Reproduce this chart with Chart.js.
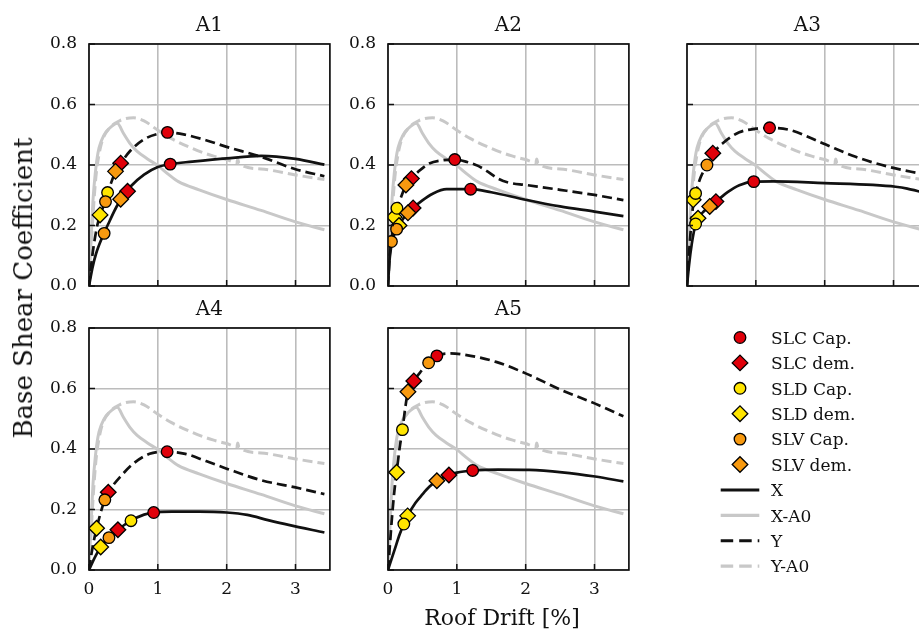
<!DOCTYPE html>
<html><head><meta charset="utf-8">
<script src="https://cdn.jsdelivr.net/npm/chart.js@4"></script>
<style>
html,body{margin:0;padding:0;width:919px;height:629px;overflow:hidden;background:#fff;}
.panel{position:absolute;}
.lbl{position:absolute;font-family:"DejaVu Serif",serif;color:#111;white-space:nowrap;line-height:1;}
</style></head><body>
<div id="panels"></div>
<div class="lbl" style="left:23px;top:288px;font-size:26px;transform:translate(-50%,-50%) rotate(-90deg);">Base Shear Coefficient</div>
<div class="lbl" style="left:502px;top:618px;font-size:22px;transform:translate(-50%,-50%);">Roof Drift [%]</div>
<script>
// ---------- data ----------
const DRIFT_TICKS = [0, 1, 2, 3];
const DRIFT_TICK_LABELS = ['0', '1', '2', '3'];
const COEF_TICKS = [0, 0.2, 0.4, 0.6, 0.8];
const COEF_TICK_LABELS = ['0.0', '0.2', '0.4', '0.6', '0.8'];
const PANEL_TITLES = ['A1', 'A2', 'A3', 'A4', 'A5'];
const MARKER_NAMES = ['SLC Cap.', 'SLC dem.', 'SLD Cap.', 'SLD dem.', 'SLV Cap.', 'SLV dem.'];
const LINE_NAMES = ['X', 'X-A0', 'Y', 'Y-A0'];

// reference building A0 (same in every panel)
const X_A0 = [[0,0],[0.02,0.1],[0.04,0.2],[0.06,0.29],[0.09,0.37],[0.13,0.44],[0.18,0.48],[0.25,0.51],[0.33,0.528],[0.41,0.538],[0.5,0.505],[0.6,0.47],[0.7,0.445],[0.85,0.42],[1.0,0.398],[1.15,0.37],[1.3,0.345],[1.6,0.318],[2.0,0.286],[2.5,0.25],[3.0,0.212],[3.42,0.186]];
const Y_A0 = [[0,0],[0.03,0.12],[0.06,0.24],[0.1,0.36],[0.15,0.44],[0.2,0.485],[0.3,0.522],[0.45,0.547],[0.65,0.556],[0.8,0.546],[1.0,0.515],[1.2,0.487],[1.5,0.455],[1.8,0.43],[2.0,0.418],[2.15,0.408],[2.16,0.42],[2.18,0.405],[2.5,0.387],[3.0,0.367],[3.42,0.352]];

// A1
const A1_X = [[0,0],[0.05,0.06],[0.1,0.105],[0.2,0.165],[0.3,0.215],[0.4,0.262],[0.5,0.298],[0.6,0.328],[0.8,0.368],[1.0,0.393],[1.18,0.403],[1.5,0.411],[2.0,0.422],[2.5,0.43],[3.0,0.42],[3.42,0.401]];
const A1_Y = [[0,0],[0.04,0.085],[0.08,0.15],[0.12,0.2],[0.16,0.233],[0.2,0.258],[0.24,0.28],[0.27,0.305],[0.32,0.34],[0.385,0.377],[0.46,0.405],[0.6,0.447],[0.8,0.485],[1.0,0.503],[1.14,0.508],[1.4,0.5],[1.7,0.482],[2.0,0.46],[2.5,0.427],[3.0,0.386],[3.42,0.363]];
const A1_SLC_CAP = [[1.18,0.403],[1.14,0.508]];
const A1_SLC_DEM = [[0.56,0.313],[0.46,0.406]];
const A1_SLD_CAP = [[0.27,0.309]];
const A1_SLD_DEM = [[0.16,0.235]];
const A1_SLV_CAP = [[0.24,0.279],[0.22,0.174]];
const A1_SLV_DEM = [[0.46,0.287],[0.385,0.379]];

// A2
const A2_X = [[0,0],[0.02,0.08],[0.05,0.135],[0.09,0.17],[0.125,0.188],[0.16,0.2],[0.22,0.222],[0.29,0.242],[0.365,0.258],[0.5,0.283],[0.65,0.305],[0.85,0.32],[1.2,0.32],[1.5,0.31],[2.0,0.285],[2.5,0.263],[3.0,0.246],[3.42,0.231]];
const A2_Y = [[0,0],[0.02,0.09],[0.05,0.147],[0.09,0.22],[0.13,0.257],[0.2,0.3],[0.26,0.334],[0.34,0.355],[0.45,0.38],[0.6,0.405],[0.8,0.416],[0.97,0.418],[1.15,0.41],[1.3,0.398],[1.45,0.378],[1.6,0.355],[1.75,0.342],[2.0,0.334],[2.5,0.318],[3.0,0.301],[3.42,0.284]];
const A2_SLC_CAP = [[1.2,0.32],[0.97,0.418]];
const A2_SLC_DEM = [[0.365,0.258],[0.34,0.355]];
const A2_SLD_CAP = [[0.13,0.257]];
const A2_SLD_DEM = [[0.09,0.228],[0.16,0.2]];
const A2_SLV_CAP = [[0.125,0.188],[0.05,0.147]];
const A2_SLV_DEM = [[0.29,0.242],[0.26,0.334]];

// A3
const A3_X = [[0,0],[0.03,0.07],[0.07,0.14],[0.125,0.205],[0.16,0.224],[0.25,0.248],[0.33,0.264],[0.42,0.279],[0.59,0.31],[0.76,0.333],[0.97,0.345],[1.25,0.346],[2.0,0.34],[2.7,0.334],[3.03,0.328],[3.2,0.322],[3.42,0.31]];
const A3_Y = [[0,0],[0.03,0.11],[0.06,0.2],[0.087,0.262],[0.125,0.306],[0.2,0.36],[0.29,0.4],[0.375,0.437],[0.52,0.472],[0.76,0.508],[1.0,0.52],[1.2,0.523],[1.49,0.516],[1.97,0.472],[2.45,0.427],[2.93,0.394],[3.42,0.37]];
const A3_SLC_CAP = [[0.97,0.345],[1.2,0.523]];
const A3_SLC_DEM = [[0.42,0.279],[0.375,0.439]];
const A3_SLD_CAP = [[0.125,0.205],[0.125,0.306]];
const A3_SLD_DEM = [[0.16,0.224],[0.09,0.285]];
const A3_SLV_CAP = [[0.29,0.4]];
const A3_SLV_DEM = [[0.33,0.263]];

// A4
const A4_X = [[0,0],[0.05,0.025],[0.1,0.048],[0.17,0.076],[0.29,0.107],[0.42,0.133],[0.61,0.163],[0.8,0.183],[0.94,0.19],[1.2,0.193],[1.6,0.193],[2.0,0.19],[2.3,0.182],[2.6,0.165],[2.9,0.149],[3.42,0.124]];
const A4_Y = [[0,0],[0.03,0.045],[0.06,0.085],[0.11,0.137],[0.17,0.19],[0.23,0.232],[0.28,0.256],[0.35,0.28],[0.45,0.307],[0.64,0.351],[0.88,0.384],[1.135,0.391],[1.4,0.384],[1.7,0.36],[2.0,0.335],[2.5,0.297],[3.0,0.273],[3.42,0.251]];
const A4_SLC_CAP = [[0.94,0.19],[1.135,0.391]];
const A4_SLC_DEM = [[0.42,0.133],[0.28,0.257]];
const A4_SLD_CAP = [[0.61,0.163]];
const A4_SLD_DEM = [[0.17,0.076],[0.11,0.138]];
const A4_SLV_CAP = [[0.29,0.107],[0.23,0.232]];
const A4_SLV_DEM = [];

// A5
const A5_X = [[0,0],[0.05,0.035],[0.1,0.07],[0.17,0.118],[0.23,0.152],[0.285,0.179],[0.4,0.222],[0.5,0.25],[0.6,0.275],[0.71,0.295],[0.885,0.314],[1.0,0.322],[1.23,0.329],[1.6,0.332],[2.05,0.331],[2.53,0.323],[3.01,0.309],[3.42,0.293]];
const A5_Y = [[0,0],[0.03,0.09],[0.06,0.18],[0.09,0.255],[0.125,0.323],[0.17,0.405],[0.21,0.464],[0.25,0.535],[0.29,0.589],[0.375,0.625],[0.48,0.657],[0.59,0.685],[0.71,0.708],[0.9,0.716],[1.2,0.708],[1.57,0.688],[2.0,0.65],[2.53,0.594],[3.01,0.55],[3.42,0.508]];
const A5_SLC_CAP = [[1.23,0.329],[0.71,0.708]];
const A5_SLC_DEM = [[0.885,0.314],[0.375,0.625]];
const A5_SLD_CAP = [[0.23,0.152],[0.21,0.464]];
const A5_SLD_DEM = [[0.285,0.179],[0.125,0.323]];
const A5_SLV_CAP = [[0.59,0.685]];
const A5_SLV_DEM = [[0.71,0.295],[0.29,0.589]];

// ---------- style / layout ----------
const FONT = '"DejaVu Serif", serif';
const RED = '#e0000a', YEL = '#ffe500', ORG = '#f7990f';
const BLACK = '#111111', GRAY = '#c8c8c8', GRID = '#bcbcbc';
const DASH = [10, 5];
const MARKER_STYLE = [
  {c: RED, s: 'circle', r: 5.8}, {c: RED, s: 'rectRot', r: 7.8},
  {c: YEL, s: 'circle', r: 5.8}, {c: YEL, s: 'rectRot', r: 7.8},
  {c: ORG, s: 'circle', r: 5.8}, {c: ORG, s: 'rectRot', r: 7.8}
];
const MARKER_ORDER = [5, 6, 3, 4, 1, 2]; // lower = drawn on top
const LINE_STYLE = [
  {c: BLACK, w: 2.7, d: [], o: 7},
  {c: GRAY, w: 3, d: [], o: 9},
  {c: BLACK, w: 2.7, d: DASH, o: 8},
  {c: GRAY, w: 3, d: DASH, o: 10}
];
const PAD_L = 60, PAD_T = 40, PAD_B = 40, PAD_R = 8, PW = 242, PH = 242;

const PANELS = [
  {lines: [A1_X, X_A0, A1_Y, Y_A0], marks: [A1_SLC_CAP, A1_SLC_DEM, A1_SLD_CAP, A1_SLD_DEM, A1_SLV_CAP, A1_SLV_DEM], l: 89, t: 44, yl: true, xl: false},
  {lines: [A2_X, X_A0, A2_Y, Y_A0], marks: [A2_SLC_CAP, A2_SLC_DEM, A2_SLD_CAP, A2_SLD_DEM, A2_SLV_CAP, A2_SLV_DEM], l: 388, t: 44, yl: true, xl: false},
  {lines: [A3_X, X_A0, A3_Y, Y_A0], marks: [A3_SLC_CAP, A3_SLC_DEM, A3_SLD_CAP, A3_SLD_DEM, A3_SLV_CAP, A3_SLV_DEM], l: 687, t: 44, yl: false, xl: false},
  {lines: [A4_X, X_A0, A4_Y, Y_A0], marks: [A4_SLC_CAP, A4_SLC_DEM, A4_SLD_CAP, A4_SLD_DEM, A4_SLV_CAP, A4_SLV_DEM], l: 89, t: 328, yl: true, xl: true},
  {lines: [A5_X, X_A0, A5_Y, Y_A0], marks: [A5_SLC_CAP, A5_SLC_DEM, A5_SLD_CAP, A5_SLD_DEM, A5_SLV_CAP, A5_SLV_DEM], l: 388, t: 328, yl: false, xl: true}
];

const framePlugin = {
  id: 'frame',
  afterDatasetsDraw(chart) {
    const {ctx, chartArea: a, scales} = chart;
    ctx.save();
    ctx.strokeStyle = BLACK;
    ctx.lineWidth = 1.5;
    ctx.beginPath();
    scales.x.ticks.forEach(t => {
      const p = scales.x.getPixelForValue(t.value);
      ctx.moveTo(p, a.bottom); ctx.lineTo(p, a.bottom - 6);
    });
    scales.y.ticks.forEach(t => {
      const p = scales.y.getPixelForValue(t.value);
      ctx.moveTo(a.left, p); ctx.lineTo(a.left + 6, p);
    });
    ctx.stroke();
    ctx.lineWidth = 1.7;
    ctx.strokeRect(a.left, a.top, a.right - a.left, a.bottom - a.top);
    ctx.restore();
  }
};

const host = document.getElementById('panels');
PANELS.forEach((p, i) => {
  const div = document.createElement('div');
  div.className = 'panel';
  const cw = PAD_L + PW + PAD_R, ch = PAD_T + PH + PAD_B;
  div.style.left = (p.l - PAD_L) + 'px';
  div.style.top = (p.t - PAD_T) + 'px';
  div.style.width = cw + 'px';
  div.style.height = ch + 'px';
  const cv = document.createElement('canvas');
  cv.width = cw; cv.height = ch;
  cv.style.width = cw + 'px'; cv.style.height = ch + 'px';
  div.appendChild(cv);
  host.appendChild(div);

  const datasets = [];
  p.marks.forEach((m, k) => {
    const st = MARKER_STYLE[k];
    datasets.push({label: MARKER_NAMES[k], data: m, showLine: false, pointStyle: st.s,
      pointRadius: st.r, backgroundColor: st.c, borderColor: '#000', pointBorderWidth: 1.3,
      borderWidth: 1.3, order: MARKER_ORDER[k]});
  });
  p.lines.forEach((ln, k) => {
    const st = LINE_STYLE[k];
    datasets.push({label: LINE_NAMES[k], data: ln, showLine: true, pointRadius: 0,
      borderColor: st.c, borderWidth: st.w, borderDash: st.d, backgroundColor: st.c,
      cubicInterpolationMode: 'monotone', fill: false, order: st.o});
  });

  new Chart(cv, {
    type: 'scatter',
    data: {datasets},
    plugins: [framePlugin],
    options: {
      responsive: false, animation: false, events: [],
      layout: {padding: {left: 0, right: PAD_R, top: 0, bottom: 0}},
      plugins: {
        legend: {display: false}, tooltip: {enabled: false},
        title: {display: true, text: PANEL_TITLES[i], fullSize: false, color: BLACK,
          font: {family: FONT, size: 20, weight: 'normal'}, padding: {top: 10, bottom: 6}}
      },
      scales: {
        x: {type: 'linear', min: 0, max: 3.5,
          afterBuildTicks: s => { s.ticks = DRIFT_TICKS.map(v => ({value: v})); },
          afterFit: s => { s.height = PAD_B; },
          border: {display: false},
          grid: {color: GRID, lineWidth: 1.6, drawTicks: false},
          ticks: {display: p.xl, padding: 9, color: BLACK, font: {family: FONT, size: 17},
            callback: (v, idx) => DRIFT_TICK_LABELS[idx], maxRotation: 0}},
        y: {type: 'linear', min: 0, max: 0.8,
          afterBuildTicks: s => { s.ticks = COEF_TICKS.map(v => ({value: v})); },
          afterFit: s => { s.width = PAD_L; },
          border: {display: false},
          grid: {color: GRID, lineWidth: 1.6, drawTicks: false},
          ticks: {display: p.yl, padding: 12, color: BLACK, font: {family: FONT, size: 17},
            callback: (v, idx) => COEF_TICK_LABELS[idx]}}
      }
    }
  });
});

// ---------- legend ----------
const LEG_L = 700, LEG_T = 320, LEG_W = 219, LEG_H = 265;
const legDiv = document.createElement('div');
legDiv.className = 'panel';
legDiv.style.left = LEG_L + 'px'; legDiv.style.top = LEG_T + 'px';
legDiv.style.width = LEG_W + 'px'; legDiv.style.height = LEG_H + 'px';
const legCv = document.createElement('canvas');
legCv.width = LEG_W; legCv.height = LEG_H;
legDiv.appendChild(legCv);
host.appendChild(legDiv);

function drawMarker(ctx, style, r, x, y) {
  ctx.beginPath();
  if (style === 'circle') ctx.arc(x, y, r, 0, Math.PI * 2);
  else { ctx.moveTo(x - r, y); ctx.lineTo(x, y - r); ctx.lineTo(x + r, y); ctx.lineTo(x, y + r); ctx.closePath(); }
  ctx.fill(); ctx.stroke();
}
const legendPlugin = {
  id: 'customLegend',
  afterDraw(chart) {
    const ctx = chart.ctx;
    const cx = 40, tx = 71, y0 = 17.5, dy = 25.4;
    ctx.save();
    ctx.font = '17px ' + FONT;
    ctx.textBaseline = 'alphabetic';
    ctx.textAlign = 'left';
    MARKER_NAMES.forEach((n, k) => {
      const st = MARKER_STYLE[k];
      const y = y0 + k * dy;
      ctx.fillStyle = st.c; ctx.strokeStyle = '#000'; ctx.lineWidth = 1.3;
      drawMarker(ctx, st.s, st.s === 'circle' ? 5.8 : 7.8, cx, y);
      ctx.fillStyle = BLACK;
      ctx.fillText(n, tx, y + 6.2);
    });
    LINE_NAMES.forEach((n, k) => {
      const st = LINE_STYLE[k];
      const y = y0 + (6 + k) * dy;
      ctx.strokeStyle = st.c; ctx.lineWidth = st.w + 0.3;
      ctx.setLineDash(st.d.length ? [12.5, 6] : []);
      ctx.beginPath(); ctx.moveTo(20.7, y); ctx.lineTo(59.3, y); ctx.stroke();
      ctx.setLineDash([]);
      ctx.fillStyle = BLACK;
      ctx.fillText(n, tx, y + 6.2);
    });
    ctx.restore();
  }
};
new Chart(legCv, {
  type: 'scatter',
  data: {datasets: []},
  plugins: [legendPlugin],
  options: {responsive: false, animation: false, events: [],
    plugins: {legend: {display: false}, tooltip: {enabled: false}},
    scales: {x: {display: false}, y: {display: false}}}
});
</script>
</body></html>
